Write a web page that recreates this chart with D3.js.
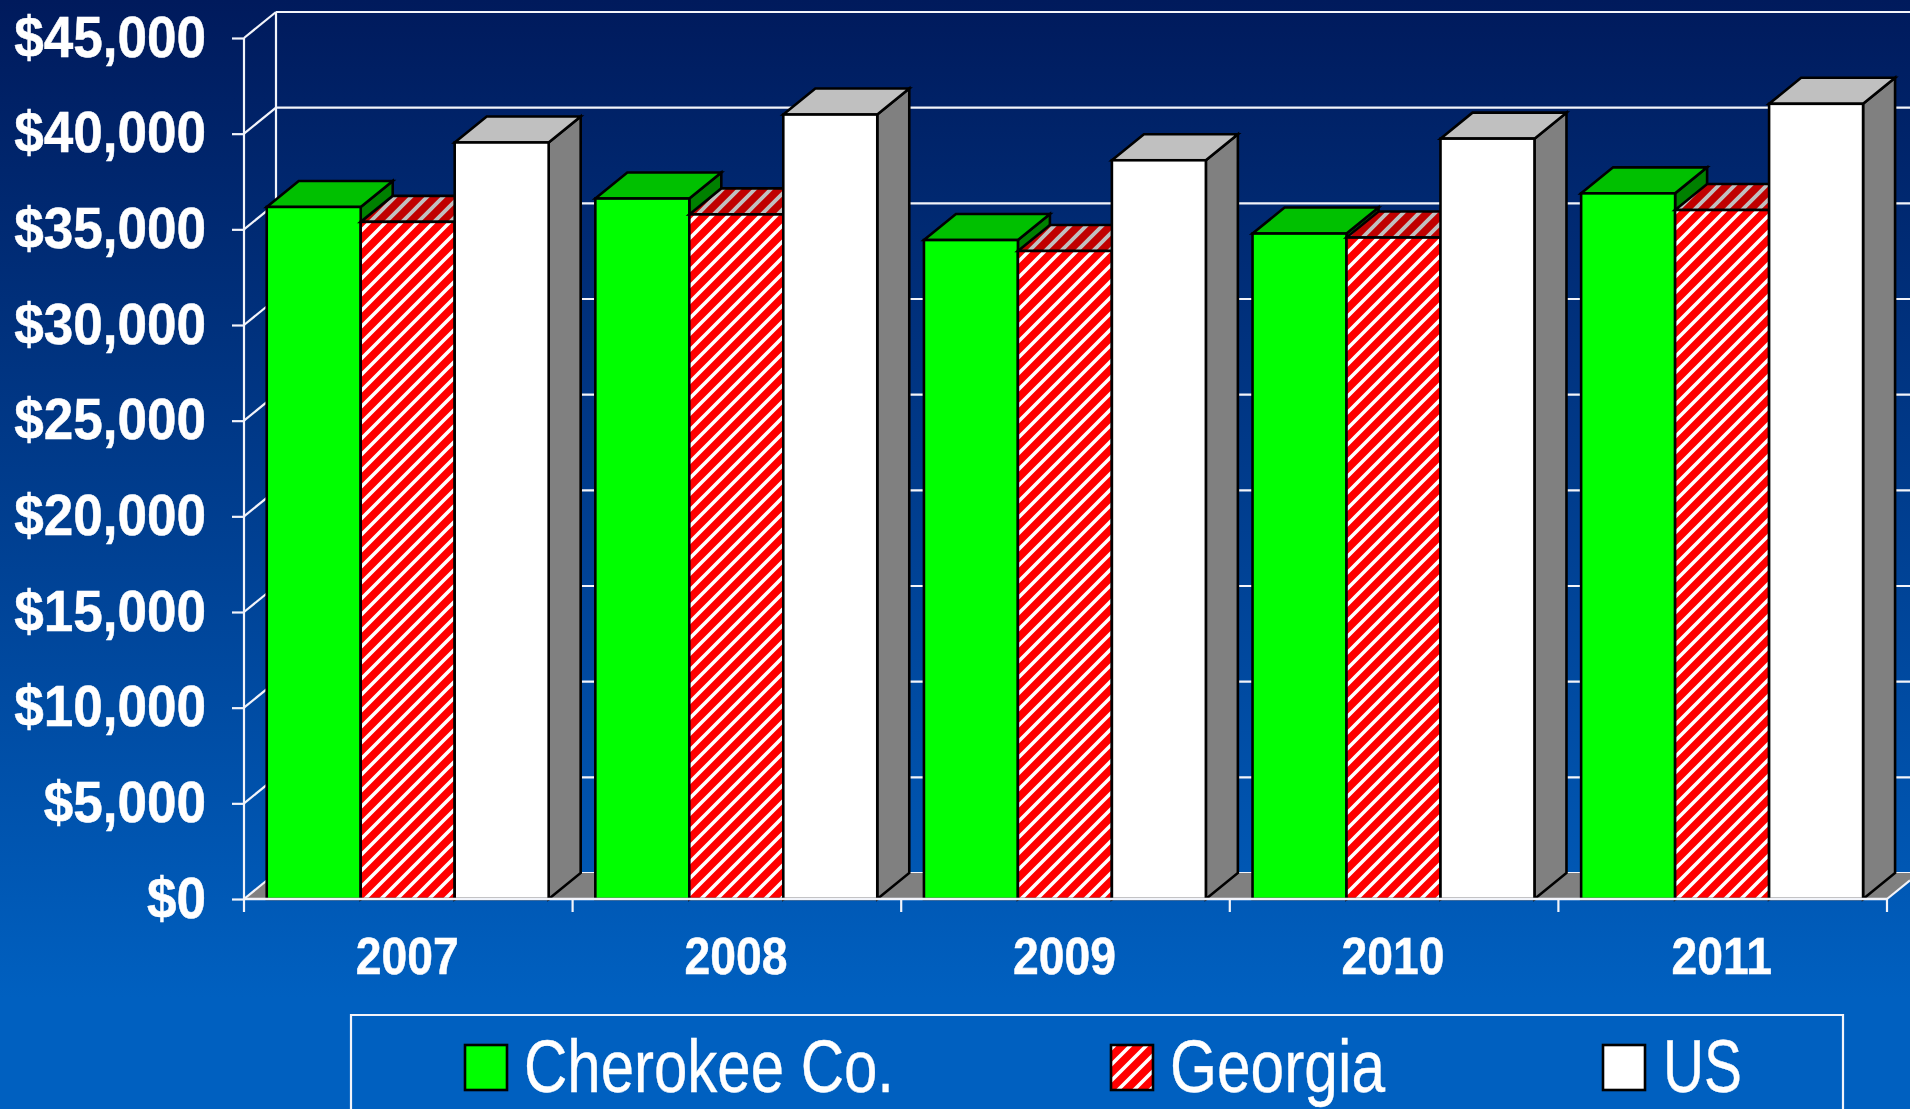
<!DOCTYPE html>
<html>
<head>
<meta charset="utf-8">
<script src="https://cdn.jsdelivr.net/npm/d3@7"></script>
<style>
html,body{margin:0;padding:0;width:1910px;height:1109px;overflow:hidden;background:#0060c0}
svg{display:block}
text{font-family:"Liberation Sans",Arial,sans-serif;fill:#fff}
</style>
</head>
<body>
<svg id="chart" width="1910" height="1109"></svg>
<script>
const categories = ["2007","2008","2009","2010","2011"];
const seriesNames = ["Cherokee Co.","Georgia","US"];
const cherokee = [36170,36610,34440,34780,36880];
const georgia  = [35390,35780,33870,34570,36010];
const us       = [39540,41000,38610,39740,41560];
const yTicks = [0,5000,10000,15000,20000,25000,30000,35000,40000,45000];

const svg = d3.select("#chart");
const W = 1910, H = 1109;
const plot = {left:244,right:1887,bottom:899,top:38,dx:32,dy:26};

const defs = svg.append("defs");
const bg = defs.append("linearGradient").attr("id","bg").attr("x1",0).attr("y1",0).attr("x2",0).attr("y2",1);
bg.append("stop").attr("offset","0").attr("stop-color","#001a5c");
bg.append("stop").attr("offset","0.9").attr("stop-color","#0060c0");
bg.append("stop").attr("offset","1").attr("stop-color","#0060c0");

function hatch(id,size,base,line,w){
  const p = defs.append("pattern").attr("id",id).attr("patternUnits","userSpaceOnUse").attr("width",size).attr("height",size);
  p.append("rect").attr("width",size).attr("height",size).attr("fill",base);
  p.append("path").attr("d",`M${-size/4},${size/4}L${size/4},${-size/4}M0,${size}L${size},0M${size*.75},${size*1.25}L${size*1.25},${size*.75}`)
   .attr("stroke",line).attr("stroke-width",w).attr("fill","none");
}
hatch("hFront",16,"#ff0000","#ffffff",3.6);
hatch("hTop",16,"#c00000","#c0c0c0",3.8);

svg.append("rect").attr("width",W).attr("height",H).attr("fill","url(#bg)");

const y = d3.scaleLinear().domain([0,45000]).range([plot.bottom,plot.top]);
const x = d3.scaleBand().domain(categories).range([plot.left,plot.right]);
const barsSpan = x.bandwidth()*0.858;
const xs = d3.scaleBand().domain(seriesNames).range([0,barsSpan]);
const inset = (x.bandwidth()-barsSpan)/2 - 0.6;

const axisColor = "#f2f4fa";

// back wall gridlines
svg.append("g").selectAll("line").data(yTicks).join("line")
  .attr("x1",plot.left+plot.dx).attr("x2",W)
  .attr("y1",d=>y(d)-plot.dy).attr("y2",d=>y(d)-plot.dy)
  .attr("stroke",axisColor).attr("stroke-width",2.2);

// floor
svg.append("path")
  .attr("d",`M${plot.left},${plot.bottom}L${plot.left+plot.dx},${plot.bottom-plot.dy}L${W},${plot.bottom-plot.dy}L${W},${plot.bottom-(W-plot.right)*plot.dy/plot.dx}L${plot.right},${plot.bottom}Z`)
  .attr("fill","#808080").attr("stroke","none");

// side wall: diagonal tick connectors and back vertical
svg.append("g").selectAll("line").data(yTicks).join("line")
  .attr("x1",plot.left).attr("x2",plot.left+plot.dx)
  .attr("y1",d=>y(d)).attr("y2",d=>y(d)-plot.dy)
  .attr("stroke",axisColor).attr("stroke-width",2.2);
svg.append("line").attr("x1",plot.left+plot.dx).attr("x2",plot.left+plot.dx)
  .attr("y1",y(45000)-plot.dy).attr("y2",plot.bottom-plot.dy)
  .attr("stroke",axisColor).attr("stroke-width",2.2);
// floor right diagonal
svg.append("line").attr("x1",plot.right).attr("x2",W)
  .attr("y1",plot.bottom).attr("y2",plot.bottom-(W-plot.right)*plot.dy/plot.dx)
  .attr("stroke",axisColor).attr("stroke-width",2.2);

// left axis
const yAxis = svg.append("g").attr("transform",`translate(${plot.left},0)`)
  .call(d3.axisLeft(y).tickValues(yTicks).tickSize(12).tickFormat(d3.format("$,")));
yAxis.select(".domain").attr("stroke",axisColor).attr("stroke-width",2.2).attr("d",`M0,${plot.top}V${plot.bottom}`);
yAxis.selectAll(".tick line").attr("stroke",axisColor).attr("stroke-width",2.2);
yAxis.selectAll(".tick text").attr("x",null).attr("dy",null)
  .attr("transform","translate(-38,18) scale(.915,1)")
  .attr("text-anchor","end")
  .attr("stroke","#fff").attr("stroke-width",0.5)
  .style("font-size","58px").style("font-weight","bold")
  .style("font-family",'"Liberation Sans",Arial,sans-serif').attr("fill","#fff");

// bars
const bars = [
  {name:seriesNames[0],values:cherokee,front:"#00ff00",top:"#00c000",side:"#008000"},
  {name:seriesNames[1],values:georgia,front:"url(#hFront)",top:"url(#hTop)",side:"#800000"},
  {name:seriesNames[2],values:us,front:"#ffffff",top:"#c0c0c0",side:"#808080"}
];
const gBars = svg.append("g").attr("stroke","#000").attr("stroke-width",2.6).attr("stroke-linejoin","miter");
categories.forEach((c,i)=>{
  bars.forEach(s=>{
    const x0 = x(c)+inset+xs(s.name), x1 = x0+xs.bandwidth(), yt = y(s.values[i]), yb = y(0);
    const dx = plot.dx, dy = plot.dy;
    gBars.append("path").attr("fill",s.side)
      .attr("d",`M${x1},${yb}L${x1+dx},${yb-dy}L${x1+dx},${yt-dy}L${x1},${yt}Z`);
    gBars.append("path").attr("fill",s.top)
      .attr("d",`M${x0},${yt}L${x0+dx},${yt-dy}L${x1+dx},${yt-dy}L${x1},${yt}Z`);
    gBars.append("rect").attr("fill",s.front)
      .attr("x",x0).attr("y",yt).attr("width",x1-x0).attr("height",yb-yt);
  });
});

// bottom axis
const xAxis = svg.append("g").attr("transform",`translate(0,${plot.bottom})`)
  .call(d3.axisBottom(x).tickSize(0));
xAxis.select(".domain").attr("stroke",axisColor).attr("stroke-width",2.6).attr("d",`M${plot.left},0H${plot.right}`);
xAxis.selectAll(".tick line").remove();
xAxis.selectAll(".tick text").attr("y",null).attr("dy",null)
  .attr("transform","translate(-1,75) scale(.89,1)")
  .attr("stroke","#fff").attr("stroke-width",0.5)
  .style("font-size","52px").style("font-weight","bold")
  .style("font-family",'"Liberation Sans",Arial,sans-serif').attr("fill","#fff");
const edges = categories.map(c=>x(c)).concat([plot.right]);
svg.append("g").selectAll("line").data(edges).join("line")
  .attr("x1",d=>d).attr("x2",d=>d).attr("y1",plot.bottom).attr("y2",plot.bottom+13)
  .attr("stroke",axisColor).attr("stroke-width",2.2);

// legend
svg.append("path").attr("d","M351,1109V1015H1843V1109").attr("fill","none").attr("stroke",axisColor).attr("stroke-width",2.2);
const legendItems = [
  {name:seriesNames[0],fill:"#00ff00",sx:465,tx:524,tw:370},
  {name:seriesNames[1],fill:"url(#hFront)",sx:1111,tx:1170,tw:215},
  {name:seriesNames[2],fill:"#ffffff",sx:1603,tx:1663,tw:79}
];
const lg = svg.append("g");
legendItems.forEach(d=>{
  lg.append("rect").attr("x",d.sx).attr("y",1045).attr("width",42).attr("height",45)
    .attr("fill",d.fill).attr("stroke","#000").attr("stroke-width",2.6);
  lg.append("text").attr("x",d.tx).attr("y",1092).attr("textLength",d.tw).attr("lengthAdjust","spacingAndGlyphs")
    .style("font-size","75px").attr("stroke","#fff").attr("stroke-width",0.4).text(d.name);
});
</script>
</body>
</html>
